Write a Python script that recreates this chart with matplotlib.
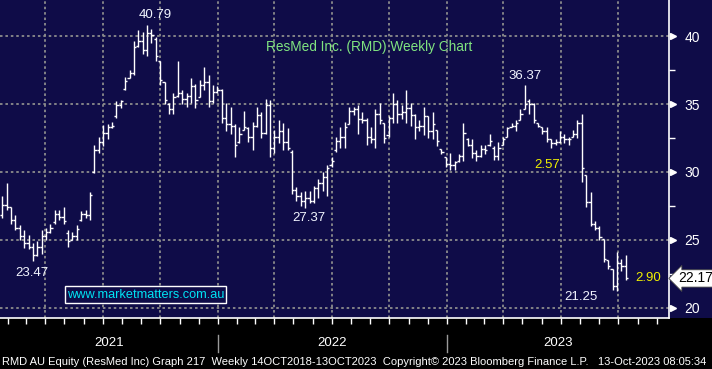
import datetime as dt

import matplotlib
matplotlib.use("Agg")
import matplotlib.pyplot as plt
import matplotlib.dates as mdates
import pandas as pd
from matplotlib.patches import Rectangle
from matplotlib.transforms import blended_transform_factory

# weekly OHLC, RMD AU (Jan 2021 - Oct 2023)
high = [28.2, 29.2, 27.4, 26.8, 26.1, 25.7, 25.4, 24.75, 24.9, 25.7,
        25.9, 26.2, 27.2, 27.2, 27.45, 25.7, 25.6, 26.1, 27.1, 27.2,
        28.5, 32.0, 32.6, 33.45, 33.5, 33.7, 35.24, 35.3, 37.0, 37.5,
        39.6, 40.44, 40.3, 40.79, 40.5, 39.9, 38.2, 36.6, 35.1, 35.8,
        38.2, 36.0, 35.8, 36.9, 36.5, 36.8, 37.75, 37.1, 36.4, 36.3,
        36.1, 35.05, 34.8, 33.5, 33.3, 34.5, 33.3, 33.7, 34.8, 34.4,
        35.4, 35.3, 33.1, 33.8, 33.6, 33.2, 31.6, 28.9, 28.5, 28.6,
        28.6, 29.0, 29.5, 30.0, 30.5, 31.1, 32.6, 33.3, 33.7, 34.8,
        34.8, 34.9, 34.4, 34.0, 33.3, 34.6, 35.05, 33.6, 34.1, 35.8,
        35.3, 34.9, 36.0, 35.1, 34.3, 33.8, 34.8, 34.1, 34.4, 33.1,
        31.7, 31.1, 31.4, 30.8, 31.3, 33.6, 32.5, 32.4, 31.6, 32.0,
        32.0, 32.8, 31.9, 32.2, 32.6, 33.3, 33.6, 33.8, 34.6, 36.37,
        35.4, 35.1, 33.6, 33.3, 33.3, 32.4, 32.4, 33.0, 32.8, 32.6,
        33.1, 33.8, 34.3, 29.8, 28.55, 26.4, 26.0, 25.1, 23.5, 22.9,
        24.1, 23.6, 23.9]
low = [26.6, 27.2, 26.2, 25.7, 25.0, 24.4, 24.3, 23.47, 23.8, 24.0,
       25.0, 25.5, 26.2, 26.5, 26.2, 24.5, 25.0, 25.0, 26.4, 26.6,
       26.5, 29.9, 31.4, 31.9, 32.4, 33.2, 34.0, 34.7, 36.0, 36.9,
       37.1, 39.2, 38.7, 38.5, 39.5, 38.2, 36.4, 35.0, 34.3, 34.3,
       35.5, 35.0, 34.8, 35.05, 34.7, 35.5, 36.0, 34.8, 35.05, 35.8,
       33.6, 33.0, 32.8, 31.1, 32.1, 33.1, 32.2, 31.6, 33.3, 32.5,
       32.8, 31.1, 31.4, 32.1, 31.6, 31.6, 28.4, 27.9, 27.5, 27.37,
       27.7, 27.7, 28.1, 28.6, 28.2, 30.4, 31.5, 31.8, 31.8, 33.5,
       34.2, 32.8, 33.6, 32.0, 32.1, 31.8, 33.5, 32.1, 32.6, 33.6,
       33.6, 33.9, 33.6, 33.4, 32.4, 33.0, 32.7, 32.5, 32.4, 31.9,
       31.3, 30.4, 30.15, 30.15, 30.7, 30.8, 31.9, 31.0, 30.8, 31.1,
       31.3, 31.9, 30.9, 30.9, 32.0, 32.6, 33.3, 33.0, 33.8, 34.6,
       34.3, 33.6, 33.3, 32.8, 32.2, 31.8, 32.0, 32.1, 32.1, 32.0,
       32.6, 32.5, 29.3, 27.4, 26.0, 25.7, 25.0, 23.4, 22.9, 21.35,
       21.25, 22.7, 22.06]
open_ = [26.8, 27.6, 27.4, 26.5, 25.9, 25.3, 24.8, 24.5, 23.9, 24.5,
         25.3, 25.6, 26.3, 26.9, 26.7, 25.5, 25.0, 25.3, 26.5, 26.9,
         26.8, 30.0, 31.6, 32.2, 32.9, 33.3, 34.1, 34.9, 36.1, 36.9,
         37.3, 39.3, 39.6, 39.0, 40.2, 39.8, 38.2, 36.6, 35.0, 34.6,
         35.6, 35.8, 35.4, 35.6, 36.3, 35.5, 36.4, 36.6, 35.2, 35.9,
         36.0, 34.0, 33.5, 33.4, 32.2, 33.1, 33.2, 32.6, 33.4, 34.2,
         32.9, 34.9, 31.8, 32.6, 33.0, 32.2, 31.5, 28.7, 28.2, 27.9,
         28.1, 27.9, 28.8, 29.2, 29.6, 30.5, 31.6, 32.3, 32.6, 33.5,
         34.5, 34.6, 33.9, 33.8, 32.6, 32.4, 34.3, 33.6, 32.7, 34.0,
         35.0, 34.3, 34.4, 34.7, 34.2, 33.3, 33.4, 34.1, 33.0, 33.1,
         31.7, 31.1, 30.6, 30.5, 30.8, 31.2, 32.4, 32.0, 31.4, 31.2,
         31.7, 32.0, 31.8, 31.2, 32.0, 32.6, 33.3, 33.4, 33.8, 34.6,
         35.2, 35.0, 33.6, 33.3, 33.0, 32.4, 32.1, 32.2, 32.6, 32.4,
         32.6, 32.8, 33.6, 29.8, 27.8, 26.2, 25.9, 25.1, 23.5, 22.9,
         21.6, 23.3, 23.1]
close = [27.6, 27.4, 26.5, 25.9, 25.3, 24.8, 24.5, 23.9, 24.5, 25.3,
         25.6, 25.9, 26.9, 26.7, 26.4, 24.9, 25.3, 25.8, 26.9, 26.8,
         28.3, 31.6, 32.2, 32.9, 33.3, 33.4, 34.9, 35.2, 36.7, 37.3,
         39.2, 39.6, 39.0, 40.2, 40.1, 38.5, 36.8, 35.3, 34.6, 35.5,
         35.8, 35.4, 35.6, 36.3, 35.3, 36.4, 36.6, 35.2, 35.9, 36.0,
         34.0, 33.5, 33.4, 32.0, 32.8, 33.3, 32.6, 33.4, 34.2, 32.9,
         34.9, 31.8, 32.6, 33.0, 32.2, 31.8, 28.7, 28.2, 27.9, 28.1,
         27.9, 28.8, 29.2, 29.6, 30.3, 30.8, 32.3, 32.6, 33.3, 34.5,
         34.6, 33.9, 33.8, 32.6, 32.4, 34.3, 33.8, 32.5, 34.0, 35.0,
         34.3, 34.4, 34.7, 34.2, 33.3, 33.4, 34.1, 33.0, 33.5, 32.3,
         31.5, 30.6, 30.5, 30.7, 31.2, 32.9, 32.0, 31.4, 31.2, 31.7,
         31.6, 32.3, 31.2, 31.8, 32.4, 33.2, 33.4, 33.6, 34.3, 35.0,
         35.0, 33.8, 33.4, 33.0, 32.4, 32.1, 32.2, 32.6, 32.4, 32.4,
         32.8, 33.6, 30.3, 27.8, 26.2, 25.9, 25.2, 23.6, 23.1, 21.6,
         23.3, 23.1, 22.17]
dates = pd.date_range(end="2023-10-13", periods=len(close), freq="W-FRI")

price_ticks = [20, 25, 30, 35, 40]
minor_ticks = [22.5, 27.5, 32.5, 37.5]
years = [2021, 2022, 2023]
last_price = "22.17"
# (text, bar index, value it marks, colour)
callouts = [("40.79", 33, 40.79, "white"),
            ("23.47", 7, 23.47, "white"),
            ("27.37", 69, 27.37, "white"),
            ("36.37", 119, 36.37, "white"),
            ("21.25", 140, 21.25, "white"),
            ("2.57", 124, 32.2, "yellow"),
            ("2.90", 142, 22.17, "yellow")]
callout_offsets = [(8, 10), (-1, -12), (4, -10), (0, 9), (-36, -6), (0, -23), (22, 0)]
title = "ResMed Inc. (RMD) Weekly Chart"
site = "www.marketmatters.com.au"
footer = ("RMD AU Equity (ResMed Inc) Graph 217  Weekly 14OCT2018-13OCT2023  "
          "Copyright\u00a9 2023 Bloomberg Finance L.P.   13-Oct-2023 08:05:34")

NAVY = "#0f0c48"
GRID = "#8c8c8c"
W, H = 712, 369
plot_right, plot_bottom = 669, 318

plt.rcParams["font.family"] = ["Liberation Sans", "DejaVu Sans"]

fig = plt.figure(figsize=(W / 100, H / 100), dpi=100, facecolor="black")
fig.patches.append(Rectangle((0, 1 - plot_bottom / H), 1, plot_bottom / H,
                             transform=fig.transFigure, facecolor=NAVY,
                             edgecolor="none", zorder=-5))
ax = fig.add_axes([0, 1 - plot_bottom / H, plot_right / W, plot_bottom / H])
ax.set_facecolor(NAVY)

# x scale: year boundaries sit at 218 px and 447 px
d2022 = mdates.date2num(dt.date(2022, 1, 1))
d2023 = mdates.date2num(dt.date(2023, 1, 1))
ppd = (447 - 218) / (d2023 - d2022)
ax.set_xlim(d2022 - 218 / ppd, d2022 + (plot_right - 218) / ppd)
ax.set_ylim(19.26, 42.65)

# grid
for p in price_ticks:
    ax.axhline(p, color=GRID, lw=1.3, ls=(0, (1.4, 1.6)), zorder=1)
for q in pd.date_range("2021-04-01", "2023-10-01", freq="QS"):
    ax.axvline(mdates.date2num(q), color=GRID, lw=1.3, ls=(0, (1.4, 1.6)), zorder=1)

# OHLC bars
xd = mdates.date2num(dates)
tick = 2.2 / ppd
ax.vlines(xd, low, high, color="white", lw=1.0, zorder=3)
ax.hlines(open_, xd - tick, xd, color="white", lw=1.0, zorder=3)
ax.hlines(close, xd, xd + tick, color="white", lw=1.0, zorder=3)

# spines / axes
for s in ["top", "left"]:
    ax.spines[s].set_visible(False)
ax.spines["right"].set_color("white")
ax.spines["right"].set_linewidth(1.2)
ax.spines["bottom"].set_color("white")
ax.spines["bottom"].set_linewidth(1.2)

ax.xaxis.set_major_locator(mdates.MonthLocator())
ax.xaxis.set_major_formatter(plt.NullFormatter())
ax.tick_params(axis="x", colors="white", length=4, width=1, direction="out")

ax.yaxis.set_ticks_position("right")
ax.set_yticks(price_ticks)
ax.set_yticks(minor_ticks, minor=True)
ax.tick_params(axis="y", which="major", length=0, pad=11, labelcolor="white",
               labelsize=10)
ax.tick_params(axis="y", which="minor", length=4, width=1, color="white",
               direction="out")

tr = blended_transform_factory(ax.transAxes, ax.transData)
ax.plot([1 + 4.5 / plot_right] * len(price_ticks), price_ticks, ls="none",
        marker=">", ms=5, color="white", transform=tr, clip_on=False)

ax.text(1 + 9 / plot_right, float(last_price), last_price, transform=tr,
        ha="left", va="center", fontsize=10, color="black",
        bbox=dict(boxstyle="larrow,pad=0.12", fc="white", ec="#444444", lw=0.6),
        clip_on=False, zorder=6)

# callouts
for (txt, i, val, col), off in zip(callouts, callout_offsets):
    c = "#f2f5ff" if col == "white" else "#f0f000"
    ax.annotate(txt, xy=(xd[i], val), xytext=off, textcoords="offset pixels",
                ha="center", va="center", fontsize=9.5, color=c, zorder=5)

# year labels and separators under the axis
tb = blended_transform_factory(ax.transData, fig.transFigure)
x0, x1 = ax.get_xlim()
for y in years:
    a = max(mdates.date2num(dt.date(y, 1, 1)), x0)
    b = min(mdates.date2num(dt.date(y + 1, 1, 1)), x1)
    ax.text((a + b) / 2, 1 - 343 / H, str(y), transform=tb, ha="center",
            va="center", fontsize=9.5, color="white", clip_on=False)
    if mdates.date2num(dt.date(y, 1, 1)) > x0:
        ax.plot([a, a], [1 - 352 / H, 1 - 335 / H], transform=tb, color="#9a9a9a",
                lw=1, clip_on=False)

fig.text(369.5 / W, 1 - 47 / H, title, ha="center", va="center",
         fontsize=9.8, color="#80e480")
fig.text(145.5 / W, 1 - 294.5 / H, site, ha="center", va="center",
         fontsize=9.2, color="#00e4f4",
         bbox=dict(boxstyle="square,pad=0.18", fc=NAVY, ec="white", lw=1))
fig.text(2 / W, 1 - 362 / H, footer, ha="left", va="center", fontsize=8,
         color="white")

fig.savefig("out.png", dpi=100, facecolor="black")
